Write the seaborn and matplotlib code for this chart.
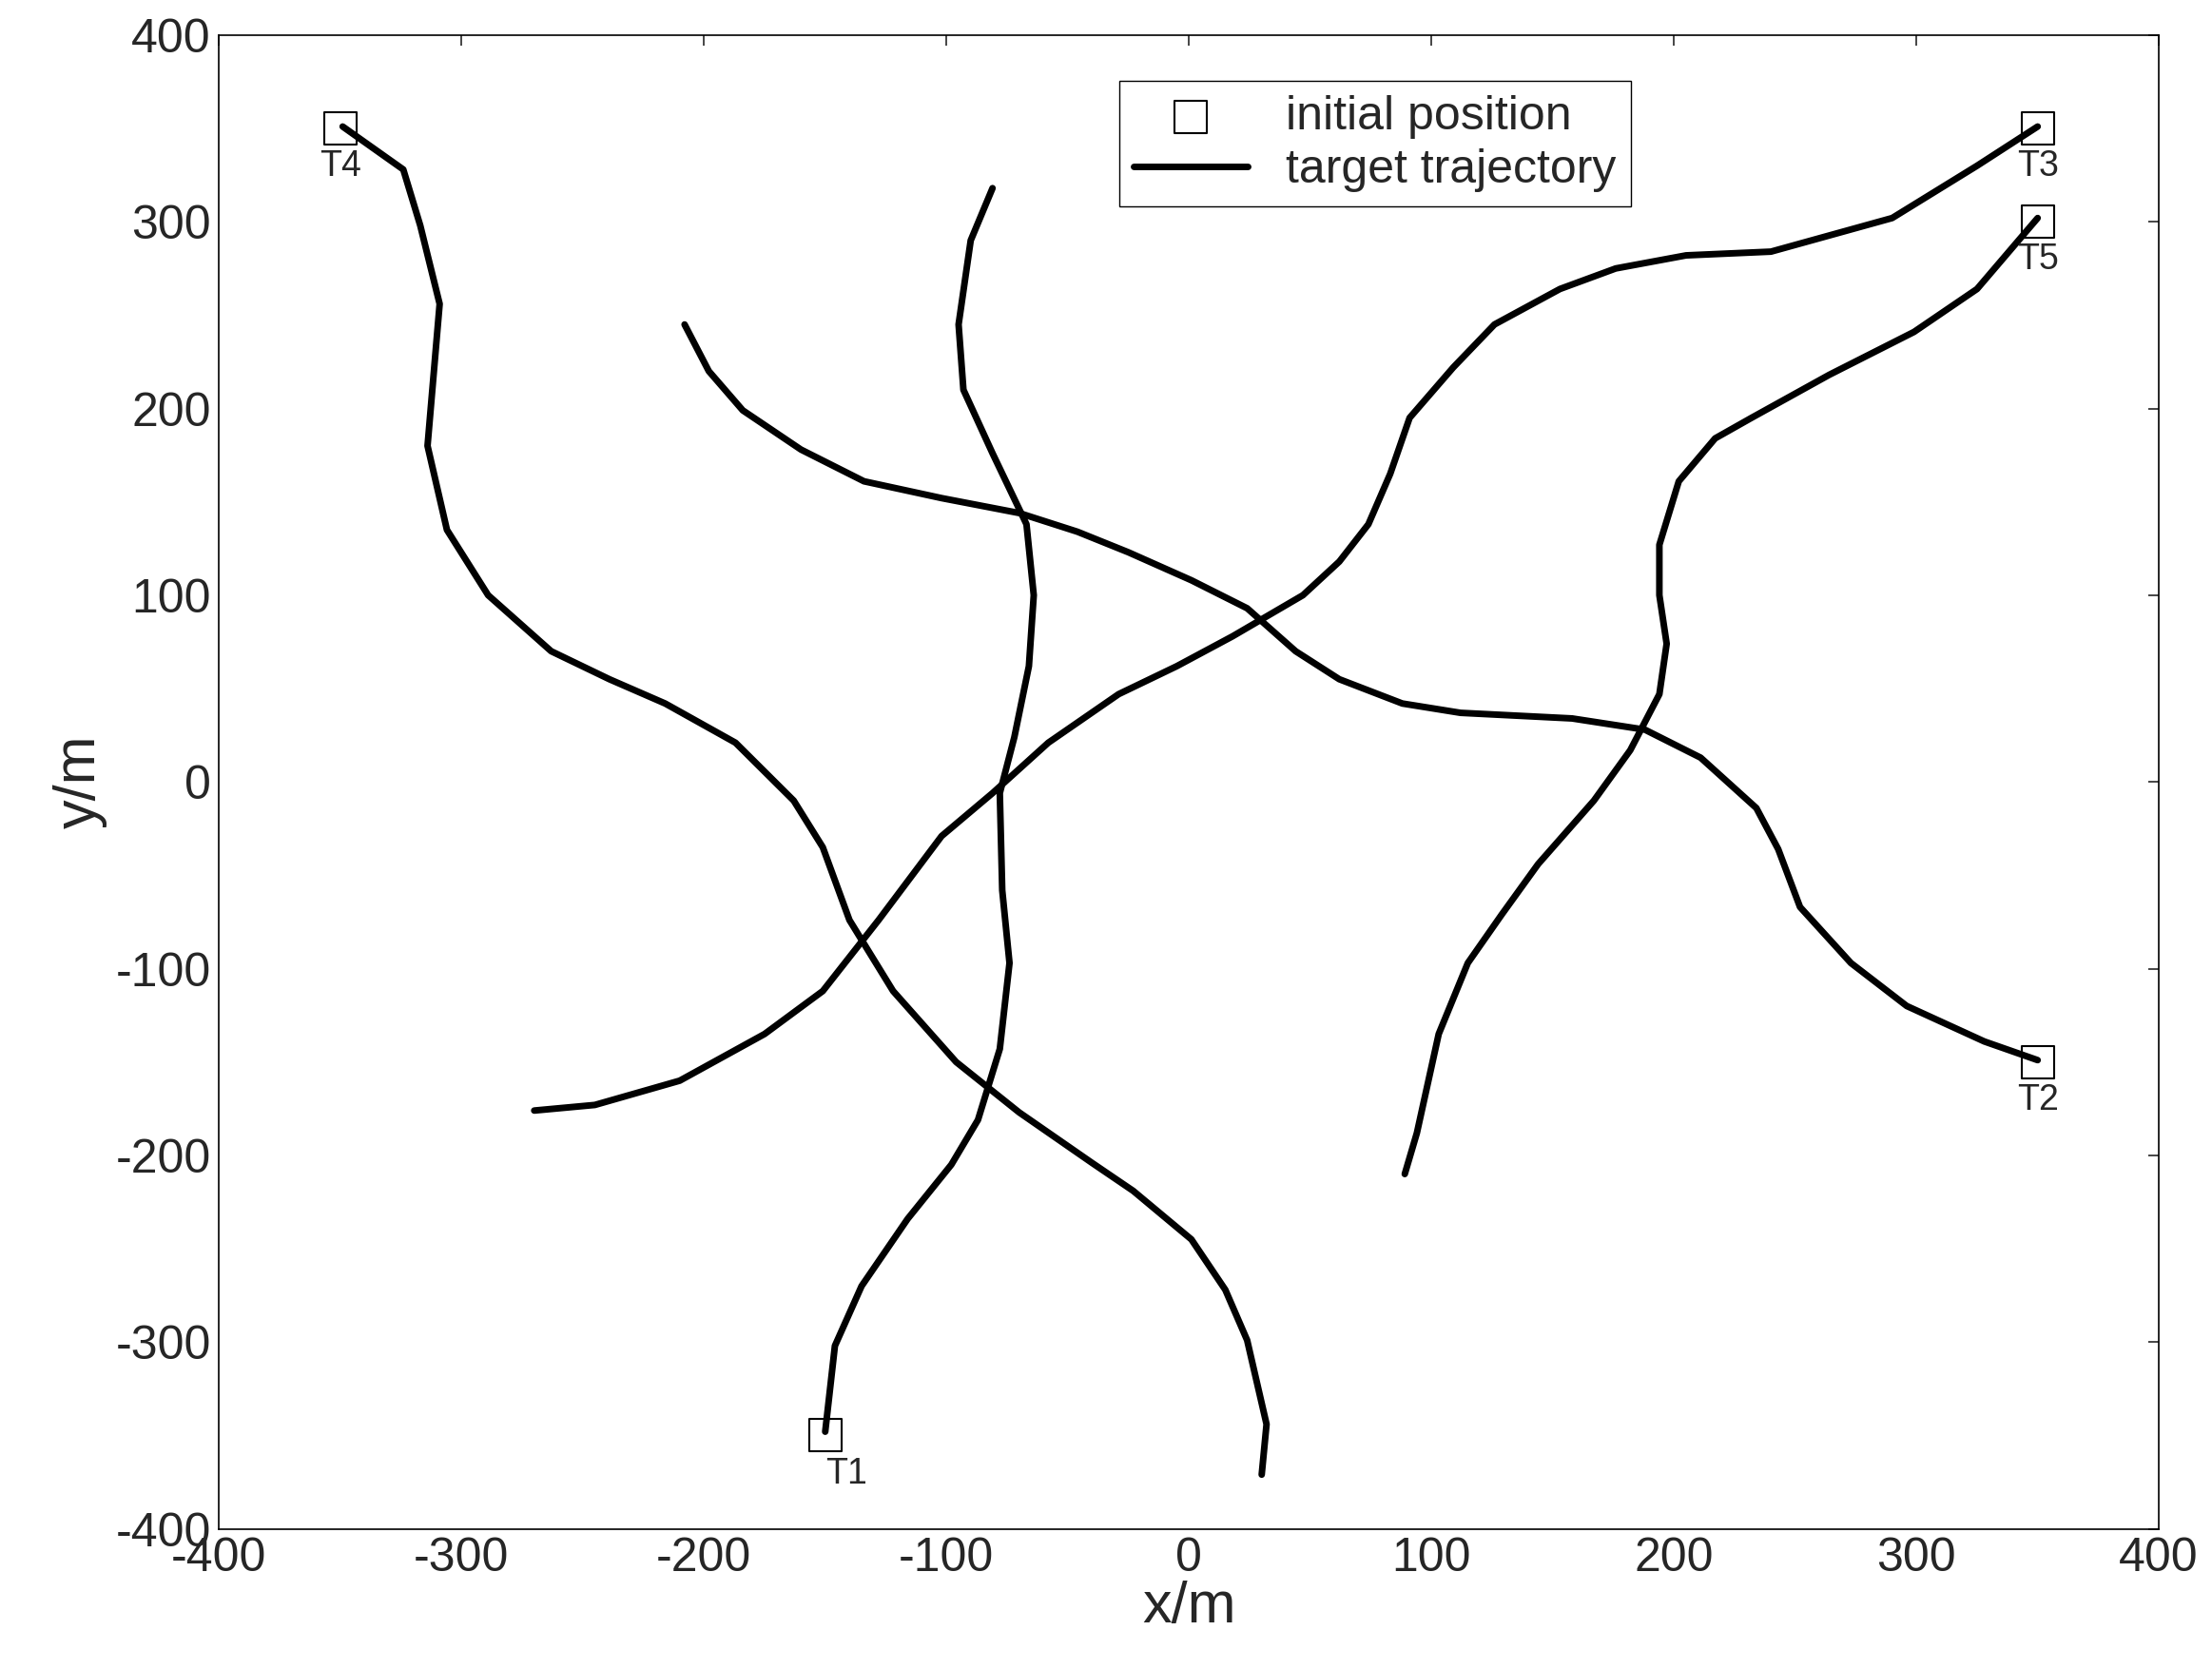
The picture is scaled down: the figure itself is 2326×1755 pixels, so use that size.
import matplotlib.pyplot as plt
import seaborn as sns
import pandas as pd

t1_x = [-150, -146, -135, -116, -98, -87, -78, -74, -77, -78, -72, -66, -64, -67, -81, -93, -95, -90, -81]
t1_y = [-348, -302, -270, -234, -205, -181, -143, -97, -58, -6, 24, 62, 100, 138, 176, 210, 245, 290, 318]
t2_x = [350, 328, 296, 273, 252, 243, 234, 211, 188, 158, 112, 88, 62, 44, 24, 1, -25, -46, -70, -102, -134, -160, -184, -198, -208]
t2_y = [-149, -139, -120, -97, -67, -36, -14, 13, 28, 34, 37, 42, 55, 70, 93, 108, 123, 134, 144, 152, 161, 178, 199, 220, 245]
t3_x = [350, 325, 290, 240, 205, 176, 153, 126, 109, 91, 83, 74, 62, 47, 18, -5, -29, -58, -81, -102, -128, -151, -175, -210, -245, -270]
t3_y = [351, 330, 302, 284, 282, 275, 264, 245, 222, 195, 165, 138, 118, 100, 78, 62, 47, 21, -6, -29, -74, -112, -135, -160, -173, -176]
t4_x = [-349, -324, -317, -309, -314, -306, -289, -263, -239, -216, -187, -163, -151, -140, -122, -96, -70, -40, -23, 1, 15, 24, 32, 30]
t4_y = [351, 328, 298, 256, 180, 135, 100, 70, 55, 42, 21, -10, -35, -74, -112, -150, -177, -204, -219, -245, -272, -299, -344, -371]
t5_x = [350, 325, 299, 264, 232, 217, 202, 194, 194, 197, 194, 182, 167, 144, 129, 115, 103, 94, 89]
t5_y = [302, 264, 241, 218, 195, 184, 161, 127, 100, 74, 47, 17, -10, -44, -71, -97, -135, -188, -210]

names = ["T1", "T2", "T3", "T4", "T5"]
start_x = [-150, 350, 350, -350, 350]
start_y = [-350, -150, 350, 350, 300]

sns.set_style("white")
plt.rcParams["font.family"] = ["Arial", "Liberation Sans", "DejaVu Sans"]
plt.rcParams["axes.unicode_minus"] = False

fig = plt.figure(figsize=(23.26, 17.55), dpi=100)
ax = fig.add_axes([0.099, 0.084, 0.877, 0.895])

tracks = [(t1_x, t1_y), (t2_x, t2_y), (t3_x, t3_y), (t4_x, t4_y), (t5_x, t5_y)]
for i, (xs, ys) in enumerate(tracks):
    df = pd.DataFrame({"x": xs, "y": ys})
    sns.lineplot(data=df, x="x", y="y", sort=False, estimator=None, ax=ax,
                 color="black", lw=5, label="target trajectory" if i == 0 else None)

sns.scatterplot(x=start_x, y=start_y, ax=ax, marker="s", s=600, facecolor="none",
                edgecolor="black", linewidth=1.5, label="initial position", zorder=4)
for n, x, y in zip(names, start_x, start_y):
    ax.annotate(n, (x, y), textcoords="offset points", xytext=(0, -16),
                ha="left" if n == "T1" else "center", va="top", fontsize=27)

handles, labels = ax.get_legend_handles_labels()
order = [labels.index("initial position"), labels.index("target trajectory")]
ax.legend([handles[i] for i in order], [labels[i] for i in order],
          loc="upper left", bbox_to_anchor=(0.452, 0.985), fontsize=36,
          frameon=True, fancybox=False, edgecolor="black", framealpha=1,
          handlelength=2.4, borderpad=0.3, labelspacing=0.2)

ax.set_xlim(-400, 400)
ax.set_ylim(-400, 400)
ax.set_xticks(range(-400, 401, 100))
ax.set_yticks(range(-400, 401, 100))
ax.tick_params(labelsize=36, direction="in", length=8, width=1.2, pad=6)
ax.tick_params(top=True, right=True)
ax.set_xlabel("x/m", fontsize=44, labelpad=0)
ax.set_ylabel("y/m", fontsize=44, labelpad=6)
for s in ax.spines.values():
    s.set_color("black")
    s.set_linewidth(1.2)

fig.savefig("out.png", dpi=100)
